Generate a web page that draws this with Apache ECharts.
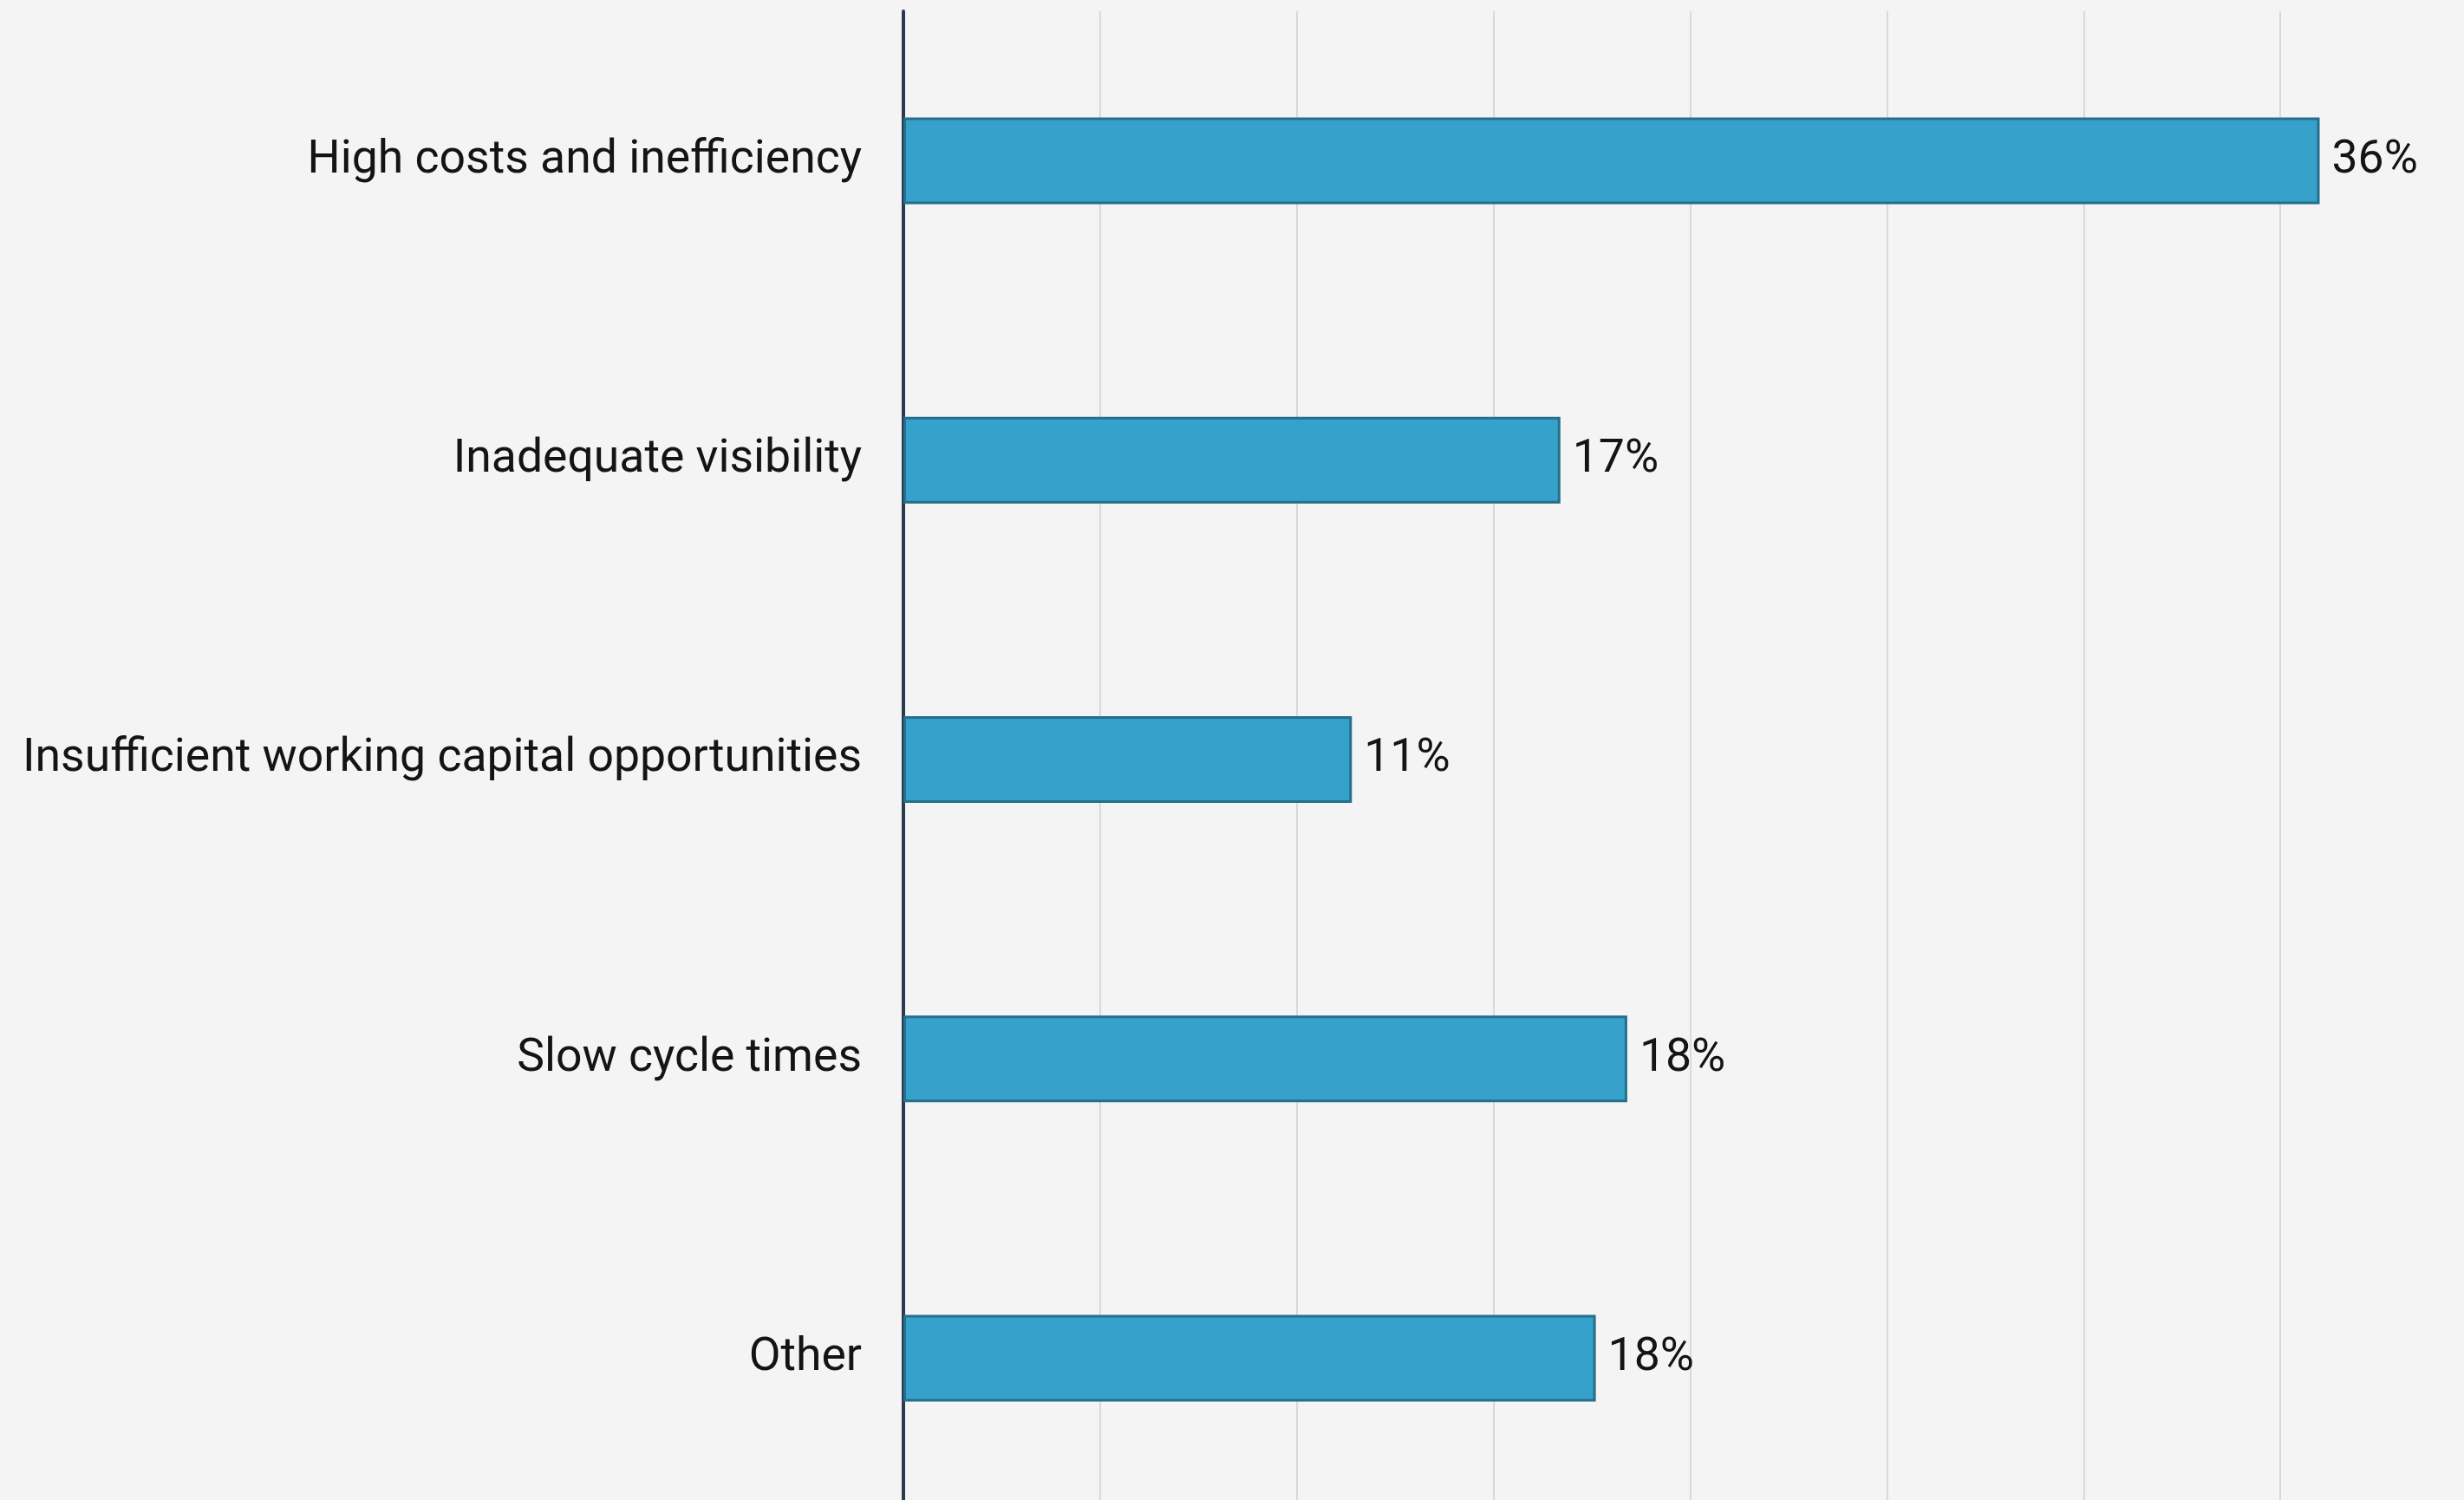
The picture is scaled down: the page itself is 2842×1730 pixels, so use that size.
<!DOCTYPE html>
<html>
<head>
<meta charset="utf-8">
<title>Challenges</title>
<script src="https://cdn.jsdelivr.net/npm/echarts@6/dist/echarts.min.js"></script>
<style>
  html, body { margin: 0; padding: 0; background: #f4f4f4; }
  #chart { width: 2842px; height: 1730px; }
</style>
</head>
<body>
<div id="chart"></div>
<script>
// Survey responses, top to bottom
const categories = [
  'High costs and inefficiency',
  'Inadequate visibility',
  'Insufficient working capital opportunities',
  'Slow cycle times',
  'Other'
];
const shares = [36, 16.7, 11.4, 18.4, 17.6];
const axisTicks = [0, 5, 10, 15, 20, 25, 30, 35, 40];

const chart = echarts.init(document.getElementById('chart'), null, { renderer: 'canvas' });

chart.setOption({
  backgroundColor: '#f4f4f4',
  animation: false,
  // plot area runs slightly past the right and bottom edges of the canvas
  grid: {
    left: 1042, top: 13, width: 1815, height: 1726,
    containLabel: false,
    outerBoundsMode: 'none'
  },
  xAxis: {
    type: 'value',
    min: axisTicks[0],
    max: axisTicks[axisTicks.length - 1],
    interval: axisTicks[1] - axisTicks[0],
    axisLine: { show: false },
    axisTick: { show: false },
    axisLabel: { show: false },
    splitLine: { show: true, lineStyle: { color: '#d9d9d9', width: 2 } }
  },
  yAxis: {
    type: 'category',
    data: categories,
    inverse: true,
    axisLine: { show: true, lineStyle: { color: '#2b3a4f', width: 4 } },
    axisTick: { show: false },
    splitLine: { show: false },
    axisLabel: {
      margin: 48,
      fontFamily: 'Roboto',
      fontSize: 53.5,
      color: '#141414'
    }
  },
  series: [{
    type: 'bar',
    data: shares,
    barWidth: 100,
    itemStyle: { color: '#36a2cb', borderColor: '#246f8b', borderWidth: 3 },
    label: {
      show: true,
      position: 'right',
      distance: 14,
      fontFamily: 'Roboto',
      fontSize: 53.5,
      color: '#141414',
      formatter: p => Math.round(p.value) + '%'
    }
  }]
});
</script>
</body>
</html>
